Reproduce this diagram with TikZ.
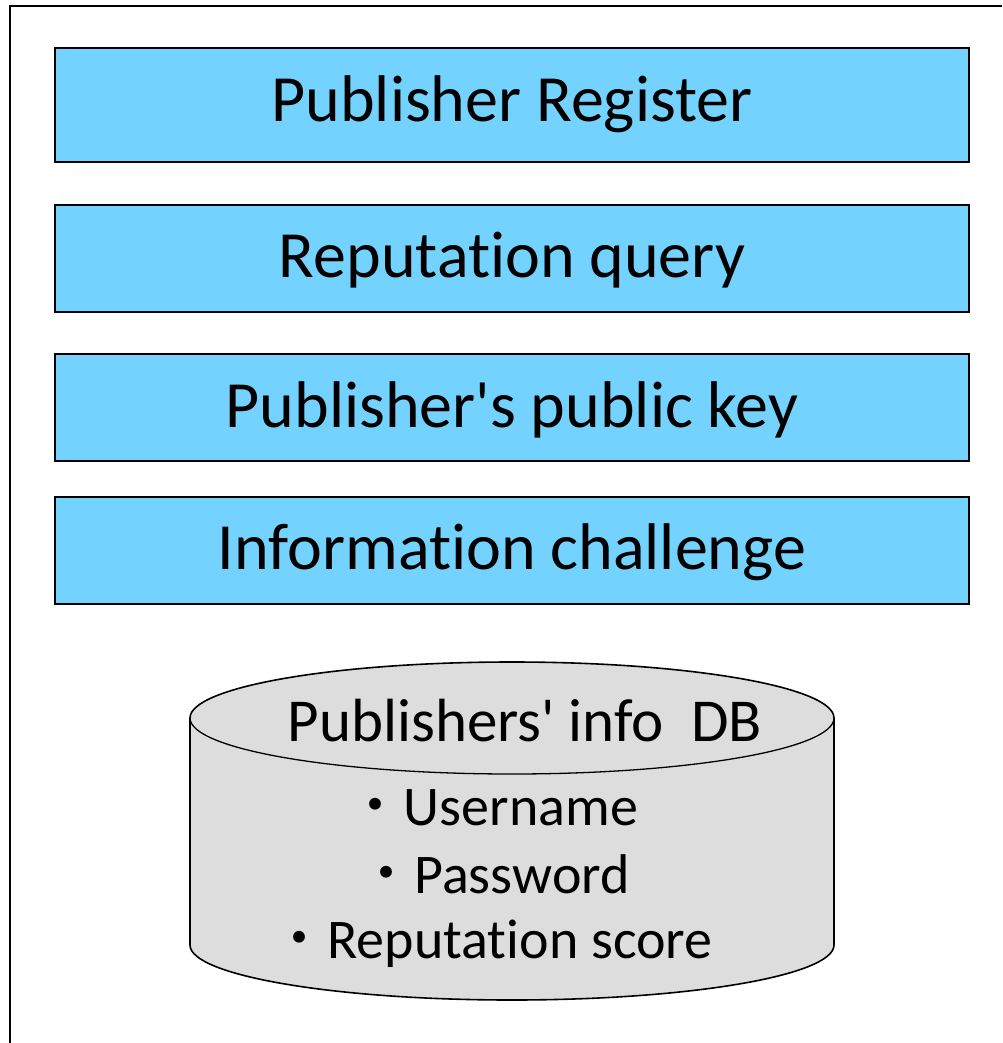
\documentclass[tikz,border=0pt]{standalone}
\usepackage{fontspec}
\setmainfont{Carlito}[Ligatures=NoCommon]
\newfontfamily\cjk{Noto Sans CJK JP}
\definecolor{boxblue}{RGB}{116,211,254}
\definecolor{dbgray}{RGB}{221,221,221}
\begin{document}
\begin{tikzpicture}[x=1pt,y=-1pt,
  bar/.style={draw=black,line width=1.6pt,fill=boxblue},
  bartext/.style={font=\fontsize{66}{72}\selectfont,anchor=base,inner sep=0pt},
  dbtitle/.style={font=\fontsize{61}{66}\selectfont,anchor=base,inner sep=0pt},
  dbtext/.style={font=\fontsize{56}{62}\selectfont,anchor=base,inner sep=0pt}]
\useasboundingbox (0,0) rectangle (1002,1043);
\fill[white] (0,0) rectangle (1002,1043);
\coordinate (fl) at (10,1043);
\coordinate (fc) at (10,6);
\coordinate (fr) at (1002,6);
\draw[line width=1.6pt] (fl) -- (fc) -- (fr);
% bars
\draw[bar] (55,48) rectangle (969,162);
\node[bartext] (b1) at (512,122) {Publisher Register};
\draw[bar] (55,205) rectangle (969,312);
\node[bartext] (b2) at (512,277) {Reputation query};
\draw[bar] (55,354) rectangle (969,461);
\node[bartext] (b3) at (512,427) {Publisher\textquotesingle s public key};
\draw[bar] (55,497) rectangle (969,604);
\node[bartext] (b4) at (512,569) {Information challenge};
% cylinder
\draw[line width=1.6pt,fill=dbgray] (190,718) -- (190,945) arc[start angle=180,end angle=0,x radius=322,y radius=55] -- (834,718) arc[start angle=0,end angle=-180,x radius=322,y radius=56] -- cycle;
\draw[line width=1.3pt] (190,718) arc[start angle=180,end angle=0,x radius=322,y radius=56];
\node[dbtitle] (db) at (525,741) {Publishers\textquotesingle\ info\ \ DB};
\node[dbtext] (u) at (493,825) {{\cjk ・}Username};
\node[dbtext] (p) at (494,893) {{\cjk ・}Password};
\node[dbtext] (r) at (492,958) {{\cjk ・}Reputation score};
\end{tikzpicture}
\end{document}
